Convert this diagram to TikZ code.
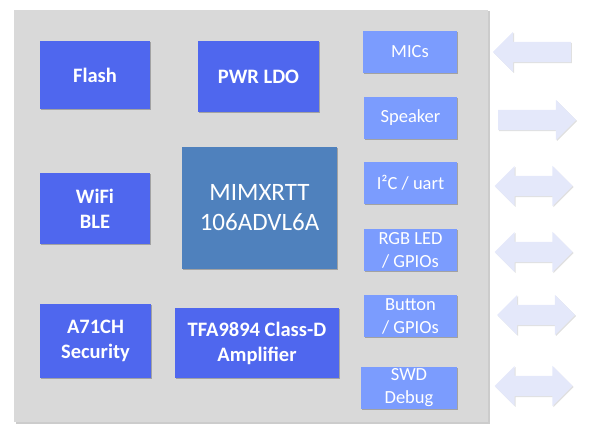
\documentclass[tikz,border=0pt]{standalone}
\usepackage{fontspec}
\setmainfont{Carlito}
\usetikzlibrary{shapes.arrows,shadows}
\definecolor{panelgray}{HTML}{D9D9D9}
\definecolor{blockblue}{HTML}{4F67EE}
\definecolor{chipblue}{HTML}{4F81BD}
\definecolor{ioblue}{HTML}{7B9CFE}
\definecolor{arrowfill}{HTML}{E4E8FA}

\begin{document}
\begin{tikzpicture}[x=1pt, y=-1pt,
    softshadow/.style={drop shadow={shadow xshift=1.2pt, shadow yshift=-1.2pt, fill=black, opacity=0.25}},
    block/.style={rectangle, fill=blockblue, text=white, font=\fontsize{20.5}{25}\selectfont\bfseries, align=center, inner sep=0pt, softshadow},
    iobox/.style={rectangle, fill=ioblue, text=white, font=\fontsize{18.5}{23}\selectfont, align=center, inner sep=0pt, minimum width=93pt, minimum height=42pt, softshadow},
    ioarrow/.style={fill=arrowfill, inner sep=10pt, minimum width=40pt, minimum height=78pt, drop shadow={shadow xshift=1pt, shadow yshift=-1pt, fill=black, opacity=0.12}},
    inarrow/.style={ioarrow, single arrow, single arrow head extend=10pt, single arrow head indent=0pt, shape border rotate=180},
    outarrow/.style={ioarrow, single arrow, single arrow head extend=10pt, single arrow head indent=0pt},
    botharrow/.style={ioarrow, double arrow, double arrow head extend=10pt, double arrow head indent=0pt}]
    \useasboundingbox (0,0) rectangle (600,444);

    % Board
    \fill[panelgray, drop shadow={shadow xshift=1.5pt, shadow yshift=-1.5pt, fill=black, opacity=0.2}] (14,10) rectangle (488,422);

    % Left and middle blocks
    \node[block, minimum width=110pt, minimum height=68pt] (flash) at (95,75) {Flash};
    \node[block, minimum width=121pt, minimum height=71pt] (ldo) at (258.5,76.5) {PWR LDO};
    \node[block, minimum width=110pt, minimum height=71pt] (wifi) at (95,208.5) {WiFi\\BLE};
    \node[block, minimum width=111pt, minimum height=74pt] (secure) at (95.5,341) {A71CH\\Security};
    \node[block, minimum width=164pt, minimum height=70pt] (amp) at (257,343) {TFA9894 Class-D\\Amplifier};

    % MCU
    \node[rectangle, fill=chipblue, text=white, font=\fontsize{25}{30}\selectfont, align=center, inner sep=0pt,
          minimum width=155pt, minimum height=122pt, softshadow] (mcu) at (259.5,208) {MIMXRTT\\106ADVL6A};

    % Interfaces
    \node[iobox, minimum width=94pt] (mics) at (410,52) {MICs};
    \node[iobox] (spk) at (410.5,118) {Speaker};
    \node[iobox] (i2c) at (410.5,183) {I²C / uart};
    \node[iobox] (led) at (410.5,250) {RGB LED\\/ GPIOs};
    \node[iobox] (btn) at (410.5,316) {Button\\/ GPIOs};
    \node[iobox, minimum width=96pt] (swd) at (409,388) {SWD\\Debug};

    % Outside arrows
    \node[inarrow] (micsarrow) at (537,52) {};
    \node[outarrow] (spkarrow) at (532,120) {};
    \node[botharrow] (i2carrow) at (533.5,186) {};
    \node[botharrow] (ledarrow) at (533.5,252) {};
    \node[botharrow] (btnarrow) at (536,315) {};
    \node[botharrow] (swdarrow) at (533.5,386) {};
\end{tikzpicture}
\end{document}
